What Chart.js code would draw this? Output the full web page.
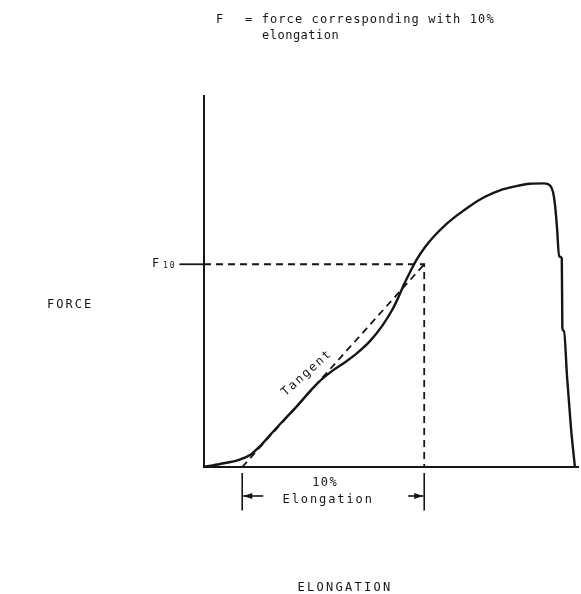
<!DOCTYPE html>
<html>
<head>
<meta charset="utf-8">
<script src="https://cdn.jsdelivr.net/npm/chart.js@4.4.1/dist/chart.umd.min.js"></script>
<style>
  html, body { margin: 0; padding: 0; background: #fff; }
  #wrap { width: 581px; height: 594px; position: relative; }
</style>
</head>
<body>
<div id="wrap"><canvas id="forceChart"></canvas></div>
<script>
// Load-elongation curve (elongation in %, force in units where F10 = 100)
const curveElong = [0, 0.88, 1.87, 2.53, 3.08, 3.63, 4.34, 5.11, 5.93, 6.48, 7.03, 7.75, 8.41, 9.12, 9.78, 10.33, 10.66, 10.99, 11.32, 11.70, 12.14, 12.64, 13.24, 13.90, 14.62, 15.44, 16.26, 17.09, 17.91, 18.68, 19.01, 19.18, 19.29, 19.40, 19.51, 19.66, 19.69, 19.78, 19.95, 20.16, 20.38];
const curveForce = [0, 1.5, 3.4, 5.9, 10.3, 15.8, 22.7, 30.0, 38.4, 43.3, 47.3, 51.7, 56.2, 62.1, 69.5, 77.3, 83.3, 90.1, 96.1, 102.5, 108.4, 113.8, 119.2, 124.1, 128.8, 133.3, 136.5, 138.4, 139.7, 139.9, 138.9, 135.5, 129.1, 117.7, 103.9, 103.0, 68.5, 67.0, 44.3, 19.7, 0];

// tangent line and the F10 construction
const tangentElong = [2.1, 12.1];
const tangentForce = [0, 100];
const f10Elong = [0, 12.1, 12.1];
const f10Force = [100, 100, 0];
const f10TickElong = [-1.35, 0];
const f10TickForce = [100, 100];

const xMax = 20.55;
const yMax = 183;

function toPoints(xs, ys) {
    return xs.map((v, i) => ({ x: v, y: ys[i] }));
}

const ink = '#151515';
const monoFont = '"DejaVu Sans Mono", "Liberation Mono", monospace';

function drawText(ctx, text, x, y, size, spacing, align) {
    ctx.font = size + 'px ' + monoFont;
    ctx.letterSpacing = spacing + 'px';
    ctx.textAlign = align || 'left';
    ctx.textBaseline = 'middle';
    ctx.fillText(text, x, y);
}

function arrow(ctx, fromX, toX, yPix) {
    ctx.beginPath();
    ctx.moveTo(fromX, yPix);
    ctx.lineTo(toX, yPix);
    ctx.stroke();
    const dir = toX > fromX ? 1 : -1;
    ctx.beginPath();
    ctx.moveTo(toX, yPix);
    ctx.lineTo(toX - dir * 9, yPix - 3);
    ctx.lineTo(toX - dir * 9, yPix + 3);
    ctx.closePath();
    ctx.fill();
}

const annotations = {
    id: 'annotations',
    afterDraw(chart) {
        const { ctx } = chart;
        const x = chart.scales.x;
        const y = chart.scales.y;
        ctx.save();
        ctx.fillStyle = ink;
        ctx.strokeStyle = ink;

        // title
        drawText(ctx, 'F', 216, 20, 12, 0.8);
        drawText(ctx, '= force corresponding with 10%', 245, 20, 12, 1.1);
        drawText(ctx, 'elongation', 262, 36, 12, 0.5);

        // axis titles
        drawText(ctx, 'FORCE', 47, 305, 12, 2);
        drawText(ctx, 'ELONGATION', 345, 588, 12, 2.3, 'center');

        // F10 label
        drawText(ctx, 'F', 152, y.getPixelForValue(100), 12, 0);
        drawText(ctx, '10', 163, y.getPixelForValue(100) + 2, 8, 2);

        // 10% elongation dimension
        const xa = x.getPixelForValue(tangentElong[0]);
        const xb = x.getPixelForValue(f10Elong[1]);
        const top = y.getPixelForValue(-3);
        const bot = y.getPixelForValue(-21.5);
        const mid = y.getPixelForValue(-14.3);
        ctx.lineWidth = 1.6;
        ctx.beginPath();
        ctx.moveTo(xa, top); ctx.lineTo(xa, bot);
        ctx.moveTo(xb, top); ctx.lineTo(xb, bot);
        ctx.stroke();
        arrow(ctx, xa + 21, xa + 1, mid);
        arrow(ctx, xb - 16, xb - 1, mid);
        drawText(ctx, '10%', (xa + xb) / 2 - 8, y.getPixelForValue(-7.9), 12, 1.5, 'center');
        drawText(ctx, 'Elongation', (xa + xb) / 2 - 5, y.getPixelForValue(-16.3), 12, 1.9, 'center');

        // tangent label
        ctx.save();
        ctx.translate(307, 373);
        ctx.rotate(-Math.PI / 4.3);
        drawText(ctx, 'Tangent', 0, 0, 12, 1.8, 'center');
        ctx.restore();

        ctx.restore();
    }
};

new Chart(document.getElementById('forceChart'), {
    type: 'line',
    data: {
        datasets: [
            {
                data: toPoints(curveElong, curveForce),
                borderColor: ink,
                borderWidth: 2.4,
                pointRadius: 0,
                cubicInterpolationMode: 'monotone',
                clip: false
            },
            {
                data: toPoints(tangentElong, tangentForce),
                borderColor: ink,
                borderWidth: 1.8,
                borderDash: [7, 5],
                pointRadius: 0
            },
            {
                data: toPoints(f10Elong, f10Force),
                borderColor: ink,
                borderWidth: 1.8,
                borderDash: [7, 5],
                pointRadius: 0
            },
            {
                data: toPoints(f10TickElong, f10TickForce),
                borderColor: ink,
                borderWidth: 1.8,
                pointRadius: 0,
                clip: false
            }
        ]
    },
    options: {
        responsive: true,
        maintainAspectRatio: false,
        animation: false,
        layout: { padding: { left: 204, right: 3, top: 96, bottom: 127 } },
        plugins: {
            legend: { display: false },
            tooltip: { enabled: false }
        },
        scales: {
            x: {
                type: 'linear',
                min: 0,
                max: xMax,
                grid: { display: false },
                ticks: { display: false },
                border: { display: true, color: ink, width: 2 },
                afterFit: (s) => { s.height = 0; }
            },
            y: {
                type: 'linear',
                min: 0,
                max: yMax,
                grid: { display: false },
                ticks: { display: false },
                border: { display: true, color: ink, width: 2 },
                afterFit: (s) => { s.width = 0; }
            }
        }
    },
    plugins: [annotations]
});
</script>
</body>
</html>
